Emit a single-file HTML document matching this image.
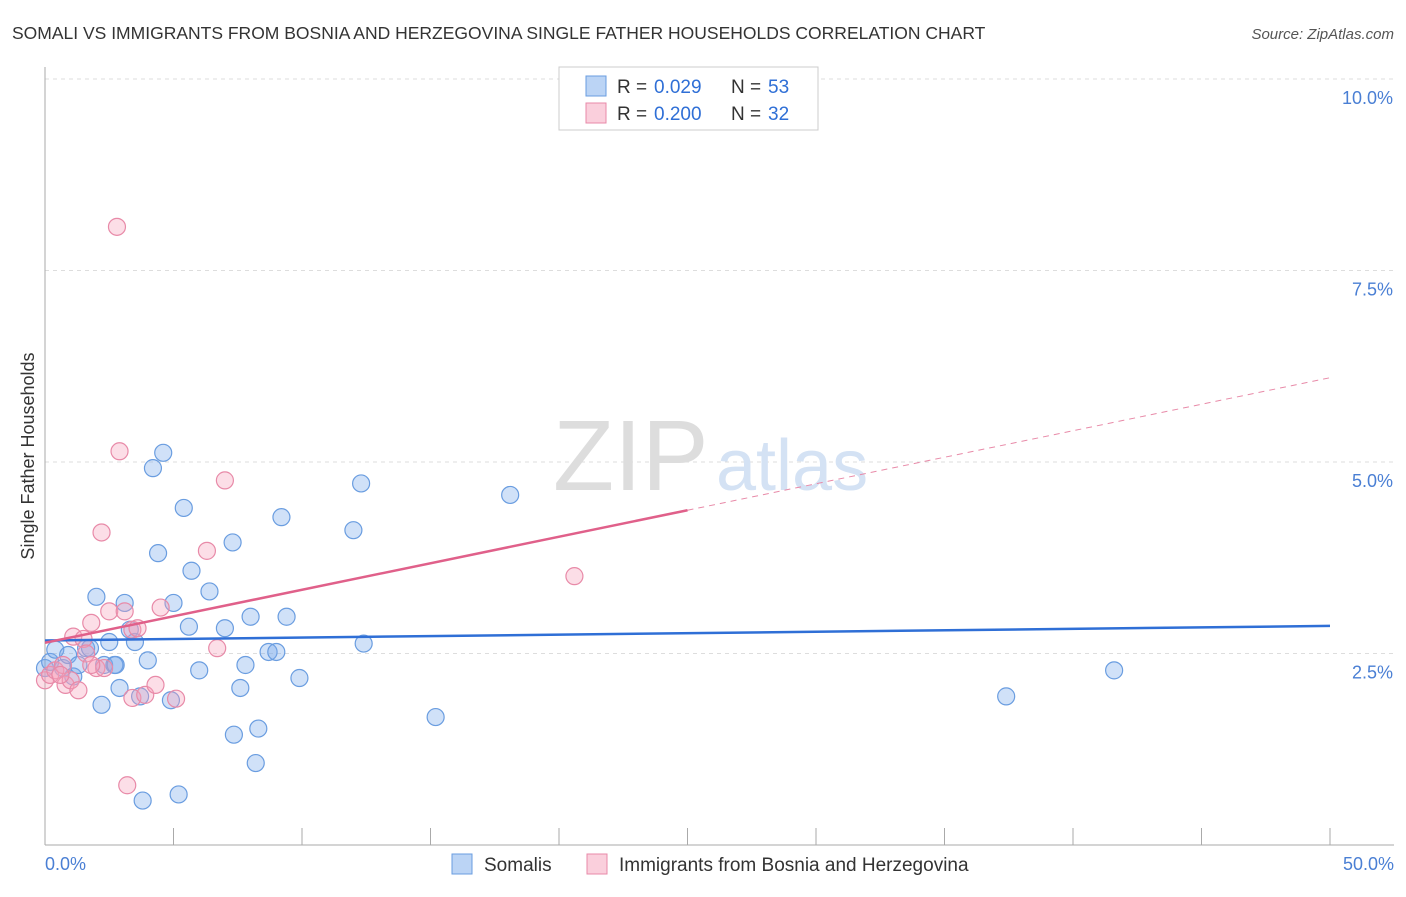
<!DOCTYPE html>
<html><head><meta charset="utf-8"><style>
body{margin:0;background:#fff;font-family:"Liberation Sans",sans-serif;}
svg text{font-family:"Liberation Sans",sans-serif;}
</style></head><body>
<svg id="c" width="1406" height="892"></svg>
<script>
const blueX=[0,0.2,0.4,0.7,0.9,1.1,1.3,1.6,2,2.2,2.3,2.5,2.7,2.9,3.1,3.3,3.5,3.7,3.8,4,4.2,4.4,4.6,4.9,5,5.2,5.4,5.6,5.7,6.0,6.4,7.0,7.3,7.35,7.6,7.8,8.0,8.2,8.3,8.7,9.0,9.2,9.4,9.9,12.0,12.3,12.4,15.2,18.1,37.4,41.6,1.75,2.75];
const blueY=[2.31,2.39,2.55,2.31,2.48,2.20,2.35,2.57,3.24,1.83,2.35,2.65,2.35,2.05,3.16,2.81,2.65,1.94,0.58,2.41,4.92,3.81,5.12,1.89,3.16,0.66,4.40,2.85,3.58,2.28,3.31,2.83,3.95,1.44,2.05,2.35,2.98,1.07,1.52,2.52,2.52,4.28,2.98,2.18,4.11,4.72,2.63,1.67,4.57,1.94,2.28,2.57,2.35];
const pinkX=[0,0.2,0.4,0.7,0.8,1.0,1.1,1.3,1.5,1.6,1.8,2.0,2.2,2.3,2.5,2.8,2.9,3.1,3.2,3.4,3.6,3.4,3.9,4.3,4.5,5.1,6.3,6.7,7.0,20.6,1.8,0.6];
const pinkY=[2.15,2.22,2.28,2.35,2.09,2.15,2.72,2.02,2.69,2.50,2.90,2.31,4.08,2.31,3.05,8.07,5.14,3.05,0.78,2.81,2.83,1.92,1.96,2.09,3.10,1.91,3.84,2.57,4.76,3.51,2.35,2.22];
const yTicks=[2.5,5,7.5,10];
const yTickLabels=["2.5%","5.0%","7.5%","10.0%"];
const blueLine=[[0,2.67],[50,2.86]];
const pinkLine=[[0,2.64],[25,4.37],[50,6.10]];
const X=v=>45+v/50*1285, Y=v=>845-v*76.6;
const s=document.getElementById('c'),NS="http://www.w3.org/2000/svg";
function add(t,a,txt){const e=document.createElementNS(NS,t);for(const k in a)e.setAttribute(k,a[k]);if(txt!==undefined)e.textContent=txt;s.appendChild(e);return e;}
let e;
e=add('text',{x:12,y:39,'font-size':17.5,fill:'#333'},'SOMALI VS IMMIGRANTS FROM BOSNIA AND HERZEGOVINA SINGLE FATHER HOUSEHOLDS CORRELATION CHART');

e=add('text',{x:1394,y:39,'font-size':15,fill:'#555','font-style':'italic','text-anchor':'end'},'Source: ZipAtlas.com');

yTicks.forEach((t,i)=>{
 e=add('line',{x1:45,x2:1394,y1:Y(t),y2:Y(t),stroke:'#ddd','stroke-dasharray':'4,4'});
 
 e=add('text',{x:1393,y:Y(t)+25,'font-size':18,fill:'#4a7fd4','text-anchor':'end'},yTickLabels[i]);
 
});
e=add('line',{x1:45,x2:45,y1:67,y2:845,stroke:'#aaa'});
e=add('line',{x1:45,x2:1394,y1:845,y2:845,stroke:'#aaa'});
for(let i=1;i<=10;i++){e=add('line',{x1:X(i*5),x2:X(i*5),y1:828,y2:845,stroke:'#aaa'});}
e=add('text',{x:45,y:870,'font-size':18,fill:'#4a7fd4'},'0.0%');
e=add('text',{x:1394,y:870,'font-size':18,fill:'#4a7fd4','text-anchor':'end'},'50.0%');
e=add('text',{x:34,y:456,'font-size':18,fill:'#333','text-anchor':'middle',transform:'rotate(-90 34 456)'},'Single Father Households');

e=add('text',{x:553,y:490,'font-size':100,fill:'#ddd','font-family':'Liberation Serif'},'ZIP');
e=add('text',{x:716,y:490,'font-size':72,fill:'#d4e2f4'},'atlas');
blueX.forEach((v,i)=>{e=add('circle',{cx:X(v),cy:Y(blueY[i]),r:8.5,fill:'rgba(120,170,235,0.35)',stroke:'#6a9de0','stroke-width':1.2});
 });
pinkX.forEach((v,i)=>{e=add('circle',{cx:X(v),cy:Y(pinkY[i]),r:8.5,fill:'rgba(245,160,185,0.35)',stroke:'#e88aa8','stroke-width':1.2});
 });
e=add('line',{x1:X(blueLine[0][0]),y1:Y(blueLine[0][1]),x2:X(blueLine[1][0]),y2:Y(blueLine[1][1]),stroke:'#2f6fd6','stroke-width':2.5});

e=add('line',{x1:X(pinkLine[0][0]),y1:Y(pinkLine[0][1]),x2:X(pinkLine[1][0]),y2:Y(pinkLine[1][1]),stroke:'#e0608a','stroke-width':2.5});

e=add('line',{x1:X(pinkLine[1][0]),y1:Y(pinkLine[1][1]),x2:X(pinkLine[2][0]),y2:Y(pinkLine[2][1]),stroke:'#e88aa8','stroke-width':1,'stroke-dasharray':'6,5'});

// top legend
e=add('rect',{x:559,y:67,width:259,height:63,fill:'#fff',stroke:'#ccc'});
[[0,'0.029','53','rgba(120,170,235,0.5)','#6a9de0'],[1,'0.200','32','rgba(245,160,185,0.5)','#e88aa8']].forEach(r=>{
 const y=86+r[0]*27;
 e=add('rect',{x:586,y:y-10,width:20,height:20,fill:r[3],stroke:r[4]});
 e=add('text',{x:617,y:y+7,'font-size':19,fill:'#333'},'R = ');
 e=add('text',{x:654,y:y+7,'font-size':19,fill:'#2f6fd6'},r[1]);
 e=add('text',{x:731,y:y+7,'font-size':19,fill:'#333'},'N = ');
 e=add('text',{x:768,y:y+7,'font-size':19,fill:'#2f6fd6'},r[2]);
});
// bottom legend
e=add('rect',{x:452,y:854,width:20,height:20,fill:'rgba(120,170,235,0.5)',stroke:'#6a9de0'});
e=add('text',{x:484,y:871,'font-size':19,fill:'#333'},'Somalis');
e=add('rect',{x:587,y:854,width:20,height:20,fill:'rgba(245,160,185,0.5)',stroke:'#e88aa8'});
e=add('text',{x:619,y:871,'font-size':19,fill:'#333'},'Immigrants from Bosnia and Herzegovina');
</script>
</body></html>
